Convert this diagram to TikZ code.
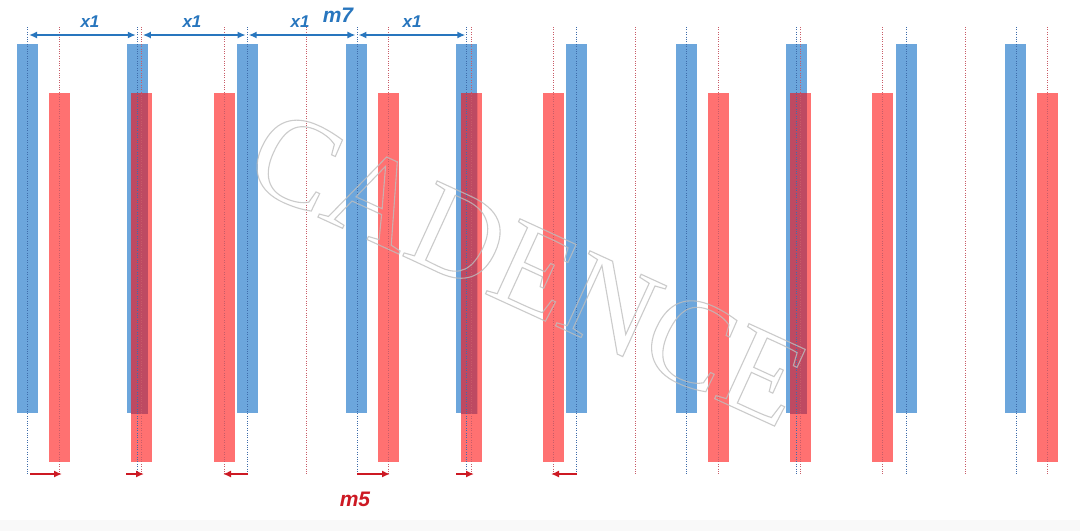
\documentclass[tikz,border=0pt]{standalone}
\usepackage{fontspec}
\setmainfont{Liberation Sans}
\newfontfamily\wmfont{Liberation Serif}
\usetikzlibrary{arrows.meta}
\definecolor{barblue}{RGB}{108,166,220}
\definecolor{barred}{RGB}{255,113,113}
\definecolor{overlapc}{RGB}{190,74,98}
\definecolor{dotblue}{RGB}{62,108,170}
\definecolor{dotred}{RGB}{200,92,104}
\definecolor{arrblue}{RGB}{40,118,190}
\definecolor{arrred}{RGB}{205,25,35}
\definecolor{wmgray}{RGB}{190,190,190}
\definecolor{bandgray}{RGB}{249,249,249}
\begin{document}
\begin{tikzpicture}[x=1pt,y=-1pt,
  barbase/.style={minimum width=21pt,minimum height=369pt,inner sep=0pt,outer sep=0pt,draw=none},
  bluebar/.style={barbase,fill=barblue},
  redbar/.style={barbase,fill=barred},
  bluedots/.style={dotblue,line width=0.9pt,dash pattern=on 1pt off 1.4pt},
  reddots/.style={dotred,line width=0.9pt,dash pattern=on 1pt off 1.4pt},
  toparrow/.style={arrblue,line width=2.2pt,{Latex[length=8pt,width=7pt]}-{Latex[length=8pt,width=7pt]},shorten <=1.5pt,shorten >=1.5pt},
  botarrow/.style={arrred,line width=2.2pt,-{Latex[length=8pt,width=7pt]}},
  bluelabel/.style={text=arrblue,font=\bfseries\itshape\fontsize{17}{17}\selectfont,inner sep=0pt},
  biglabel/.style={font=\bfseries\itshape\fontsize{21}{21}\selectfont,inner sep=0pt},
]
\useasboundingbox (0,0) rectangle (1080,531);
\fill[white] (0,0) rectangle (1080,531);
\fill[bandgray] (0,520) rectangle (1080,531);

% blue bars and their guide coordinates
\foreach \i in {0,...,9}{
  \pgfmathsetmacro\xb{27.5+109.83*\i}
  \node[bluebar] (B\i) at (\xb,228.5) {};
  \coordinate (BT\i) at (\xb,27);
  \coordinate (BB\i) at (\xb,475);
  \coordinate (A\i) at (\xb,35);
}
% red guide coordinates
\foreach \i in {0,...,12}{
  \pgfmathsetmacro\xr{59.5+82.33*\i}
  \coordinate (RT\i) at (\xr,27);
  \coordinate (RB\i) at (\xr,475);
}
% red bars
\foreach \i in {0,1,2,4,5,6,8,9,10,12}{
  \pgfmathsetmacro\xr{59.5+82.33*\i}
  \node[redbar] (R\i) at (\xr,277.5) {};
}
% overlaps
\foreach \b/\r in {1/1,4/5,7/9}{
  \begin{scope}
    \clip (B\b.north west) rectangle (B\b.south east);
    \fill[overlapc] (R\r.north west) rectangle (R\r.south east);
  \end{scope}
}
% dotted guides
\foreach \i in {0,...,12}{ \draw[reddots] (RT\i) -- (RB\i); }
\foreach \i in {0,...,9}{ \draw[bluedots] (BT\i) -- (BB\i); }

% top dimension arrows
\draw[toparrow] (A0) -- (A1);
\draw[toparrow] (A1) ++(4,0) coordinate (A1r) (A1r) -- (A2);
\draw[toparrow] (A2) -- (A3);
\draw[toparrow] (A3) -- (A4);
\node[bluelabel] (x1a) at (90,22) {x1};
\node[bluelabel] (x1b) at (192,22) {x1};
\node[bluelabel] (x1c) at (300,22) {x1};
\node[bluelabel] (x1d) at (412,22) {x1};
\node[biglabel,text=arrblue] (m7) at (338,15) {m7};

% bottom shift arrows
\coordinate (P1s) at (30,474);  \coordinate (P1e) at (62,474);
\coordinate (P2s) at (126,474); \coordinate (P2e) at (144,474);
\coordinate (P3s) at (248,474); \coordinate (P3e) at (223,474);
\coordinate (P4s) at (357,474); \coordinate (P4e) at (390,474);
\coordinate (P5s) at (456,474); \coordinate (P5e) at (474,474);
\coordinate (P6s) at (577,474); \coordinate (P6e) at (551,474);
\foreach \k in {1,...,6}{ \draw[botarrow] (P\k s) -- (P\k e); }
\node[biglabel,text=arrred] (m5) at (355,499) {m5};

% watermark
\node[rotate=-24.6,text=wmgray,text opacity=0.8,inner sep=0pt] (wm) at (528,268)
  {\wmfont\fontsize{126}{126}\selectfont\special{pdf:code 1 Tr 1.1 w}CADENCE\special{pdf:code 0 Tr}};
\end{tikzpicture}
\end{document}
